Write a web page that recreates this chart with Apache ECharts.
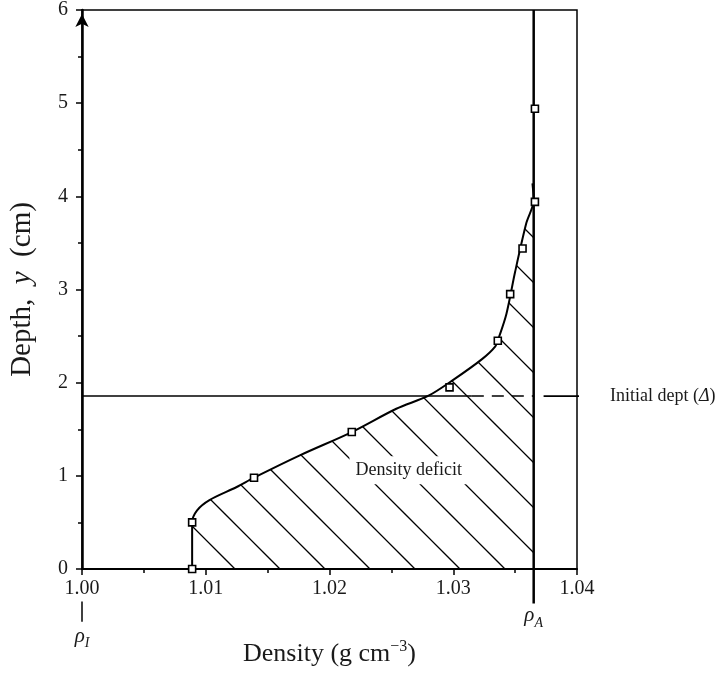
<!DOCTYPE html>
<html><head><meta charset="utf-8">
<script src="https://cdn.jsdelivr.net/npm/echarts@6/dist/echarts.min.js"></script>
<style>html,body{margin:0;padding:0;background:#fff}#c{width:723px;height:674px}</style>
</head><body><div id="c"></div>
<script>
// Fitted density profile (curve)
const curveDensity = [1.0089, 1.0089, 1.0093, 1.0103, 1.0125, 1.0139, 1.0176, 1.0218, 1.0254, 1.0280, 1.0300, 1.0323, 1.0334, 1.0337, 1.0343, 1.0350, 1.0359, 1.0365, 1.0364];
const curveDepth   = [0,      0.50,   0.63,   0.74,   0.88,   0.98,   1.22,   1.47,   1.72,   1.86,   2.03,   2.25,   2.39,   2.49,   2.74,   3.19,   3.71,   3.96,   4.14];
// Measured points (squares)
const obsDensity = [1.0089, 1.0089, 1.0139, 1.0218, 1.0297, 1.0336, 1.0346, 1.0356, 1.0366, 1.0366];
const obsDepth   = [0,      0.50,   0.98,   1.47,   1.95,   2.45,   2.95,   3.44,   3.94,   4.94];
// Reference values
const rhoI = 1.00;
const rhoA = 1.0365;
const initialDepth = 1.856;
// Axis ranges / ticks
const xMin = 1.00, xMax = 1.04, xStep = 0.01;
const yMin = 0, yMax = 6, yStep = 1;
// Texts
const xTitle = '{n|Density (g cm}{sup|\u22123}{n|)}';
const yTitle = '{n|Depth,  }{i|y}{n|  (cm)}';
const deficitText = '{d|Density deficit}';
const initialText = '{n|Initial dept (}{i|\u0394}{n|)}';

const FONT = 'Liberation Serif';
const TXT = '#1a1a1a';

// hatch pattern
const hatch = document.createElement('canvas');
hatch.width = 45; hatch.height = 45;
const g = hatch.getContext('2d');
g.strokeStyle = '#000'; g.lineWidth = 1.3;
g.beginPath();
g.moveTo(24, -2); g.lineTo(47, 21);
g.moveTo(-2, 17); g.lineTo(28, 47);
g.stroke();

const curvePts = curveDensity.map((d, i) => [d, curveDepth[i]]);
const obsPts = obsDensity.map((d, i) => [d, obsDepth[i]]);
const topDepth = curveDepth[curveDepth.length - 1];

const chart = echarts.init(document.getElementById('c'), null, {renderer: 'canvas'});
chart.setOption({
  animation: false,
  backgroundColor: '#fff',
  grid: {left: 82, right: 146, top: 10, bottom: 105, show: true, borderColor: '#000', borderWidth: 1.5, backgroundColor: 'transparent'},
  xAxis: {
    type: 'value', min: xMin, max: xMax, interval: xStep,
    axisLine: {lineStyle: {color: '#000', width: 2}},
    axisTick: {length: 6, lineStyle: {color: '#000', width: 1.5}},
    minorTick: {show: true, splitNumber: 2, length: 4, lineStyle: {color: '#000', width: 1.5}},
    splitLine: {show: false},
    axisLabel: {fontFamily: FONT, fontSize: 20, color: TXT, margin: 10, formatter: v => v.toFixed(2)},
    name: xTitle, nameLocation: 'middle', nameGap: 70,
    nameTextStyle: {rich: {
      n: {fontFamily: FONT, fontSize: 26, color: TXT, lineHeight: 28, verticalAlign: 'bottom'},
      sup: {fontFamily: FONT, fontSize: 16, color: TXT, lineHeight: 17, verticalAlign: 'top'}
    }}
  },
  yAxis: {
    type: 'value', min: yMin, max: yMax, interval: yStep,
    axisLine: {lineStyle: {color: '#000', width: 2.5}, symbol: ['none', 'arrow'], symbolSize: [10, 13], symbolOffset: [0, -4]},
    axisTick: {length: 6, lineStyle: {color: '#000', width: 1.5}},
    minorTick: {show: true, splitNumber: 2, length: 4, lineStyle: {color: '#000', width: 1.5}},
    splitLine: {show: false},
    axisLabel: {fontFamily: FONT, fontSize: 20, color: TXT, margin: 14},
    name: yTitle, nameLocation: 'middle', nameGap: 45, nameRotate: 90,
    nameTextStyle: {rich: {
      n: {fontFamily: FONT, fontSize: 29, color: TXT},
      i: {fontFamily: FONT, fontSize: 29, color: TXT, fontStyle: 'italic'}
    }}
  },
  series: [
    {
      type: 'custom', silent: true, z: 1, clip: false,
      data: [[rhoA, 0]],
      renderItem: function (params, api) {
        const pts = curvePts.map(p => api.coord(p));
        pts.push(api.coord([rhoA, topDepth]));
        pts.push(api.coord([rhoA, 0]));
        return {type: 'polygon', shape: {points: pts}, style: {fill: {image: hatch, repeat: 'repeat'}, stroke: null}};
      }
    },
    {
      type: 'line', z: 3, data: curvePts, smooth: 0.3, symbol: 'none',
      lineStyle: {color: '#000', width: 2}, silent: true
    },
    {
      type: 'line', z: 3, data: [[rhoA, yMax], [rhoA, -0.37]], symbol: 'none', clip: false,
      lineStyle: {color: '#000', width: 2.5}, silent: true
    },
    {
      type: 'line', z: 3, data: [[rhoI, -0.35], [rhoI, -0.565]], symbol: 'none', clip: false,
      lineStyle: {color: '#000', width: 1.5}, silent: true
    },
    {
      type: 'line', z: 3, data: [[xMin, initialDepth], [1.0315, initialDepth]], symbol: 'none', clip: false,
      lineStyle: {color: '#000', width: 1.5}, silent: true
    },
    {
      type: 'line', z: 3, data: [[1.0315, initialDepth], [rhoA, initialDepth]], symbol: 'none', clip: false,
      lineStyle: {color: '#000', width: 1.5, type: [12, 8]}, silent: true
    },
    {
      type: 'line', z: 3, data: [[1.0373, initialDepth], [1.0421, initialDepth]], symbol: 'none', clip: false,
      lineStyle: {color: '#000', width: 1.8}, silent: true
    },
    {
      type: 'scatter', z: 5, data: obsPts, symbol: 'rect', symbolSize: 7, clip: false,
      itemStyle: {color: '#fff', borderColor: '#000', borderWidth: 1.6, opacity: 1}, silent: true
    },
    {
      type: 'scatter', z: 4, symbolSize: 0, clip: false, silent: true,
      itemStyle: {opacity: 1},
      data: [
        {value: [rhoI, -0.565], label: {position: 'bottom', distance: 4, formatter: '{r|\u03c1}{s|I}'}},
        {value: [rhoA, -0.37], label: {position: 'bottom', distance: 2, formatter: '{r|\u03c1}{s|A}'}},
        {value: [1.0264, 1.06], label: {position: 'inside', formatter: deficitText}},
        {value: [1.0421, initialDepth], label: {position: 'right', distance: 7, formatter: initialText}}
      ],
      label: {show: true, rich: {
        r: {fontFamily: FONT, fontSize: 21, color: TXT, fontStyle: 'italic', lineHeight: 22, verticalAlign: 'top'},
        s: {fontFamily: FONT, fontSize: 14, color: TXT, fontStyle: 'italic', lineHeight: 14, verticalAlign: 'top', padding: [11, 0, 0, 0]},
        n: {fontFamily: FONT, fontSize: 18, color: TXT},
        i: {fontFamily: FONT, fontSize: 18, color: TXT, fontStyle: 'italic'},
        d: {fontFamily: FONT, fontSize: 18, color: TXT, backgroundColor: '#fff', padding: [5, 6]}
      }}
    }
  ]
});
</script></body></html>
